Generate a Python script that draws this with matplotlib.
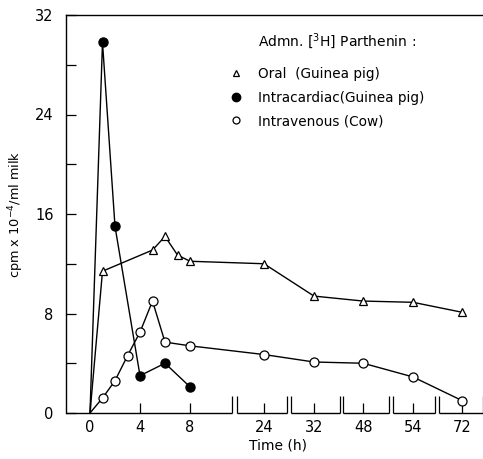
import numpy as np
import matplotlib
matplotlib.use("Agg")
from matplotlib import pyplot as plt
from matplotlib.lines import Line2D

# data (hours, cpm x 10^-4 / ml milk)
hours_oral = [0, 1, 5, 6, 7, 8, 24, 32, 48, 54, 72]
oral = [0, 11.4, 13.1, 14.2, 12.7, 12.2, 12.0, 9.4, 9.0, 8.9, 8.1]
hours_ic = [0, 1, 2, 4, 6, 8]
intracardiac = [0, 29.8, 15.0, 3.0, 4.0, 2.1]
hours_iv = [0, 1, 2, 3, 4, 5, 6, 8, 24, 32, 48, 54, 72]
intravenous = [0, 1.2, 2.6, 4.6, 6.5, 9.0, 5.7, 5.4, 4.7, 4.1, 4.0, 2.9, 1.0]

tick_hours = [0, 4, 8, 24, 32, 48, 54, 72]
tick_labels = ['0', '4', '8', '24', '32', '48', '54', '72']

# broken time axis: hours -> position on the drawn axis
knot_hours = [-100, 0, 8, 24, 32, 48, 54, 72, 172]
knot_pos = [-100, 0, 8, 13.92, 17.92, 21.86, 25.84, 29.76, 129.76]


def to_pos(h):
    return np.interp(h, knot_hours, knot_pos)


xmin, xmax = -1.92, 31.44
segments = [(xmin, 11.34), (11.74, 15.78), (16.06, 20.0),
            (20.26, 23.92), (24.26, 27.6), (27.94, xmax)]

plt.rcParams['font.family'] = 'DejaVu Sans'

fig = plt.figure(figsize=(4.83, 4.59), dpi=100)
ax = fig.add_axes([66 / 483, 46 / 459, 417 / 483, 398 / 459])

lw = 1.0
ax.plot(to_pos(hours_oral), oral, color='black', lw=lw, marker='^', ms=6,
        mfc='white', mec='black', mew=0.9, markevery=slice(1, None), clip_on=False)
ax.plot(to_pos(hours_ic), intracardiac, color='black', lw=lw, marker='o', ms=6.5,
        mfc='black', mec='black', markevery=slice(1, None), clip_on=False)
ax.plot(to_pos(hours_iv), intravenous, color='black', lw=lw, marker='o', ms=6.5,
        mfc='white', mec='black', mew=0.9, markevery=slice(1, None), clip_on=False)

ax.set_xlim(xmin, xmax)
ax.set_ylim(0, 32)

ax.spines['right'].set_visible(False)
ax.spines['bottom'].set_visible(False)
ax.spines['top'].set_linewidth(1.0)
ax.spines['left'].set_linewidth(1.0)

# segmented bottom axis line
for a, b in segments:
    ax.plot([a, b], [0, 0], color='black', lw=1.0, clip_on=False, solid_capstyle='butt')

ax.set_xticks(to_pos(tick_hours))
ax.set_xticklabels(tick_labels)
ax.set_xticks([s for seg in segments[1:] for s in seg] + [segments[0][1]], minor=True)
ax.tick_params(axis='x', which='major', direction='in', length=7, width=0.9,
               labelsize=10.5, pad=5)
ax.tick_params(axis='x', which='minor', direction='in', length=12, width=0.9)

ax.set_yticks([0, 8, 16, 24, 32])
ax.set_yticks([4, 12, 20, 28], minor=True)
ax.tick_params(axis='y', which='both', direction='in', length=7.5, width=0.9,
               labelsize=10.5, pad=9)

ax.set_xlabel('Time (h)', fontsize=10)
ax.xaxis.set_label_coords((278 - 66) / 417, -0.065)
ax.set_ylabel(r'cpm x 10$^{-4}$/ml milk', fontsize=9.3)
ax.yaxis.set_label_coords(-0.095, 0.5)

fig.text(258 / 483, 1 - 41 / 459, r'Admn. [$^3$H] Parthenin :', fontsize=10,
         ha='left', va='center')

handles = [
    Line2D([], [], ls='none', marker='^', ms=5, mfc='white', mec='black', mew=0.9),
    Line2D([], [], ls='none', marker='o', ms=6, mfc='black', mec='black'),
    Line2D([], [], ls='none', marker='o', ms=5, mfc='white', mec='black', mew=0.9),
]
labels = ['Oral  (Guinea pig)', 'Intracardiac(Guinea pig)', 'Intravenous (Cow)']
ax.legend(handles, labels, loc='upper left', bbox_to_anchor=(230.5 / 483, 1 - 67 / 459),
          bbox_transform=fig.transFigure, frameon=False, fontsize=9.8,
          handlelength=0.8, handletextpad=1.25, labelspacing=0.7,
          borderpad=0, borderaxespad=0)

fig.savefig('out.png', dpi=100)
